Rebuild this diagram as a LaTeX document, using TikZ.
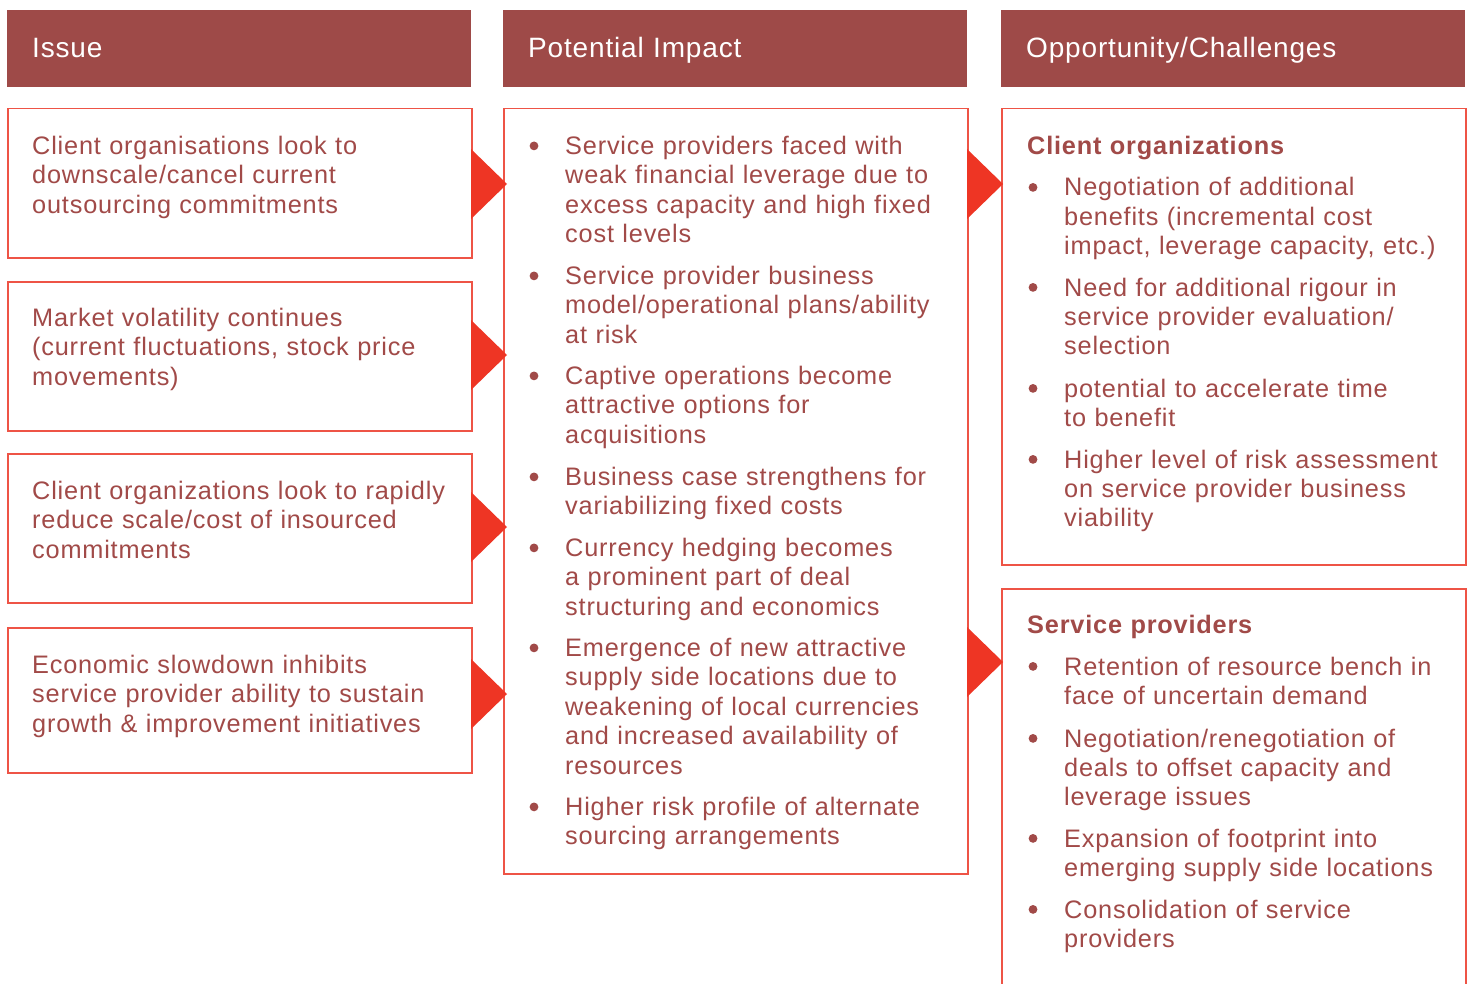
\documentclass[tikz,border=0pt]{standalone}
\usepackage{fontspec}
\setmainfont{Liberation Sans}
\newfontfamily\bodyf[LetterSpace=3.2]{Liberation Sans}
\newfontfamily\headf[LetterSpace=3]{Liberation Sans}
\definecolor{hdrfill}{HTML}{9E4A48}
\definecolor{txtc}{HTML}{A14A48}
\definecolor{edgec}{HTML}{EE5446}
\definecolor{tric}{HTML}{EE3524}
\tikzset{
  hdr/.style={fill=hdrfill, draw=none, anchor=north west, minimum width=464pt,
    minimum height=77pt, inner xsep=25pt, inner ysep=0pt, text width=414pt,
    align=left, text=white, font=\headf\fontsize{28}{32}\selectfont,
    text height=20pt, text depth=3pt},
  panel/.style={draw=edgec, line width=1.5pt, fill=white, anchor=north west,
    inner sep=0pt},
  txt/.style={anchor=base west, inner sep=0pt, align=left, text=txtc,
    font=\bodyf\fontsize{25.3}{29.4}\selectfont},
  txtA/.style={txt, text width=430pt},
  txtB/.style={txt, text width=400pt},
  head/.style={txt, text width=400pt, font=\bodyf\bfseries\fontsize{25.3}{29.4}\selectfont},
  pointer/.style={fill=tric, draw=none},
  dot/.style={fill=txtc, draw=none}
}
% bullet dot in front of an item node
\newcommand\itemdot[1]{\fill[dot] ([shift={(-31pt,8.6pt)}]#1.base west) circle (4.4pt);}
\newcommand\pointerat[2]{\fill[pointer] (#1,#2-35) -- (#1+36,#2) -- (#1,#2+35) -- cycle;}
\begin{document}
\begin{tikzpicture}[x=1pt,y=-1pt]
\useasboundingbox[fill=white] (0,0) rectangle (1471,984);

% column headers
\node[hdr] (hIssue) at (7,10) {Issue};
\node[hdr] (hImpact) at (503,10) {Potential Impact};
\node[hdr] (hOpp) at (1001,10) {Opportunity/Challenges};

% issue panels
\node[panel, minimum width=464pt, minimum height=149pt] (p1) at (7,108) {};
\node[panel, minimum width=464pt, minimum height=149pt] (p2) at (7,281) {};
\node[panel, minimum width=464pt, minimum height=149pt] (p3) at (7,453) {};
\node[panel, minimum width=464pt, minimum height=145pt] (p4) at (7,627) {};
% impact panel
\node[panel, minimum width=464pt, minimum height=765pt] (pImp) at (503,108) {};
% opportunity panels (the second runs past the lower edge)
\node[panel, minimum width=464pt, minimum height=456pt] (pCli) at (1001,108) {};
\node[panel, minimum width=464pt, minimum height=420pt] (pSrv) at (1001,588) {};

% pointers between the columns
\pointerat{471}{184}
\pointerat{471}{355}
\pointerat{471}{527}
\pointerat{471}{694}
\pointerat{967}{184}
\pointerat{967}{662}

% issues
\node[txtA] (i1) at (32,154.5) {Client organisations look to\\downscale/cancel current\\outsourcing commitments};
\node[txtA] (i2) at (32,326.5) {Market volatility continues\\(current fluctuations, stock price\\movements)};
\node[txtA] (i3) at (32,499.5) {Client organizations look to rapidly\\reduce scale/cost of insourced\\commitments};
\node[txtA] (i4) at (32,673.5) {Economic slowdown inhibits\\service provider ability to sustain\\growth \& improvement initiatives};

% potential impact
\node[txtB] (m1) at (565,154.5) {Service providers faced with\\weak financial leverage due to\\excess capacity and high fixed\\cost levels};
\node[txtB] (m2) at (565,284.5) {Service provider business\\model/operational plans/ability\\at risk};
\node[txtB] (m3) at (565,384.5) {Captive operations become\\attractive options for\\acquisitions};
\node[txtB] (m4) at (565,485.5) {Business case strengthens for\\variabilizing fixed costs};
\node[txtB] (m5) at (565,556.5) {Currency hedging becomes\\a prominent part of deal\\structuring and economics};
\node[txtB] (m6) at (565,656.5) {Emergence of new attractive\\supply side locations due to\\weakening of local currencies\\and increased availability of\\resources};
\node[txtB] (m7) at (565,815.5) {Higher risk profile of alternate\\sourcing arrangements};
\foreach \n in {m1,m2,m3,m4,m5,m6,m7} {\itemdot{\n}}

% opportunities / challenges
\node[head] (cHead) at (1027,154.5) {Client organizations};
\node[txtB] (c1) at (1064,196) {Negotiation of additional\\benefits (incremental cost\\impact, leverage capacity, etc.)};
\node[txtB] (c2) at (1064,296) {Need for additional rigour in\\service provider evaluation/\\selection};
\node[txtB] (c3) at (1064,397) {potential to accelerate time\\to benefit};
\node[txtB] (c4) at (1064,468) {Higher level of risk assessment\\on service provider business\\viability};
\node[head] (sHead) at (1027,633.5) {Service providers};
\node[txtB] (s1) at (1064,675) {Retention of resource bench in\\face of uncertain demand};
\node[txtB] (s2) at (1064,747) {Negotiation/renegotiation of\\deals to offset capacity and\\leverage issues};
\node[txtB] (s3) at (1064,847) {Expansion of footprint into\\emerging supply side locations};
\node[txtB] (s4) at (1064,918) {Consolidation of service\\providers};
\foreach \n in {c1,c2,c3,c4,s1,s2,s3,s4} {\itemdot{\n}}
\end{tikzpicture}
\end{document}
